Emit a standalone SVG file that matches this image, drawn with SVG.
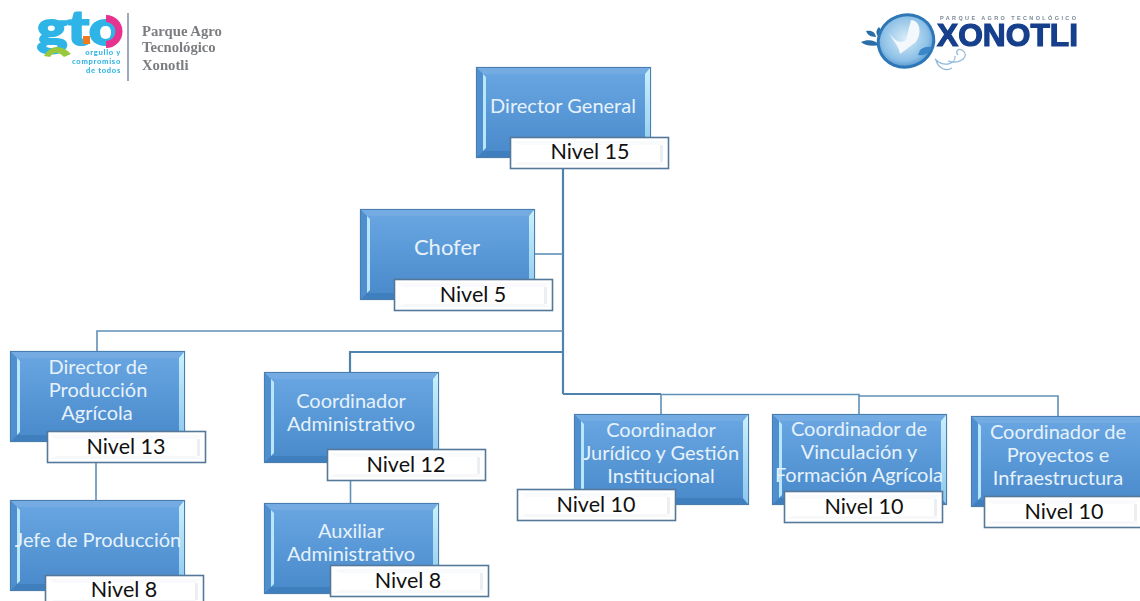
<svg xmlns="http://www.w3.org/2000/svg" xmlns:xlink="http://www.w3.org/1999/xlink" width="1140" height="601" viewBox="0 0 1140 601">
<style>
.t{font-family:Lato,"Liberation Sans",sans-serif;font-size:20px;fill:#e6f2fb;text-anchor:middle}
.n{font-family:Lato,"Liberation Sans",sans-serif;font-size:21.500px;fill:#111;text-anchor:middle}
.c{fill:none;stroke:#5f90b8;stroke-width:1.6}
.ct{fill:none;stroke:#4f83ad;stroke-width:2.2}
.lb{fill:#fff;stroke:#54789a;stroke-width:1.6}
.lg{font-family:"Liberation Serif",serif;font-size:14.700px;font-weight:bold;fill:#7b7d80}
.s{font-family:Lato,"Liberation Sans",sans-serif;font-size:7.600px;letter-spacing:0.7px;font-weight:900;fill:#34b4e4;text-anchor:end}
</style>
<defs>
<linearGradient id="bg" x1="0" y1="0" x2="0" y2="1"><stop offset="0" stop-color="#6aa7e3"/><stop offset="1" stop-color="#4889ca"/></linearGradient>
<linearGradient id="rb" x1="0" y1="0" x2="0" y2="1"><stop offset="0" stop-color="#c9f0fb"/><stop offset="1" stop-color="#8cc8ee"/></linearGradient>
<g id="box">
<rect x="0.5" y="0.5" width="174" height="90" fill="url(#bg)" stroke="#4a7eae" stroke-width="1.2"/>
<polygon points="1,1 174,1 168,7 7,7" fill="#74abe2"/>
<polygon points="1,90 174,90 168,84 7,84" fill="#3f7fbd"/>
<polygon points="1,1 7,7 7,84 1,90" fill="#4f8ecf"/>
<polygon points="7,7 10,10 10,81 7,84" fill="#b8e6fa"/>
<polygon points="169,7 174,1 174,90 169,84" fill="url(#rb)"/>
</g>
<g id="lab">
<rect x="0.5" y="0.5" width="158" height="31" class="lb"/>
<polygon points="3,4 156,4 150,8 9,8" fill="#f9fafc"/>
<polygon points="3,28 156,28 150,25 9,25" fill="#f6f8fa"/>
<polygon points="150,8 153,8 153,25 150,25" fill="#eceff2"/>
</g>
<filter id="bl"><feGaussianBlur stdDeviation="0.45"/></filter>
<radialGradient id="gl" cx="0.5" cy="0.45" r="0.6"><stop offset="0" stop-color="#d8ecf8"/><stop offset="0.7" stop-color="#8cc0e6"/><stop offset="1" stop-color="#3f86c8"/></radialGradient>
</defs>

<g id="connectors">
<path class="ct" d="M563 168V394"/>
<path class="c" d="M534 254H563"/>
<path class="c" d="M563 331H97V351"/>
<path class="ct" d="M563 352H350V372"/>
<path class="ct" d="M563 394H661"/>
<path class="c" d="M661 394V414"/>
<path class="c" d="M661 394.500H859V414"/>
<path class="c" d="M859 396H1058V416"/>
<path class="c" d="M96 462V500"/>
<path class="c" d="M350.500 480V503"/>
</g>

<g id="logo-gto" filter="url(#bl)">
<text x="37" y="45" font-family="Lato,'Liberation Sans',sans-serif" font-size="47" font-weight="900" fill="#2eb4e6" stroke="#2eb4e6" stroke-width="2" textLength="85" lengthAdjust="spacingAndGlyphs">gto</text>
<path d="M106 18.500A13 13 0 0 1 106 44.500" fill="none" stroke="#e8318f" stroke-width="7"/>
<path d="M44 56C50 45 62 44 71 54L64 57C59 52 54 51 50 57Z" fill="#9ac83c"/>
<rect x="83" y="36" width="7" height="8" fill="#ee7d22"/>
<text class="s" x="121" y="55">orgullo y</text>
<text class="s" x="121" y="64">compromiso</text>
<text class="s" x="121" y="73">de todos</text>
<path d="M128 13V81" stroke="#5a6f8c" stroke-width="1.2"/>
<text class="lg" x="142" y="36">Parque Agro</text>
<text class="lg" x="142" y="52">Tecnológico</text>
<text class="lg" x="142" y="70">Xonotli</text>
</g>

<g id="logo-xonotli" filter="url(#bl)">
<path d="M880 45C871 47 864 45 861 42C868 39 875 40 880 45ZM876 37C870 37 867 34 866 31C872 30 875 32 876 37ZM880 38C876 35 875 31 879 27C882 31 882 35 880 38Z" fill="#2b6ea8"/>
<ellipse cx="906" cy="41" rx="28" ry="26" fill="url(#gl)" stroke="#2d77b6" stroke-width="3" transform="rotate(-20 906 41)"/>
<path d="M889 33C895 41 900 44 906 40L911 20C919 20 923 32 916 42L900 54C899 46 893 41 889 33Z" fill="#f2f8fc"/>
<path d="M920 50C925 46 930 46 932 48C929 54 924 56 918 55Z" fill="#3a86c8"/>
<path d="M935 59C944 68 956 64 955 56M948 61C960 65 971 56 962 50C958 48 955 52 958 55M936 60C938 68 946 72 952 68" fill="none" stroke="#8fb8d8" stroke-width="1.200"/>
<text x="940" y="20" font-family="'Liberation Sans',sans-serif" font-size="5.500" font-weight="bold" fill="#7a8894" textLength="136">PARQUE AGRO TECNOLÓGICO</text>
<text x="937" y="46" font-family="'Liberation Sans',sans-serif" font-size="32" font-weight="bold" fill="#133f8c" stroke="#133f8c" stroke-width="1.200" textLength="141" lengthAdjust="spacingAndGlyphs">XONOTLI</text>
</g>

<g id="director-general"><use xlink:href="#box" href="#box" x="476" y="67"/><use xlink:href="#lab" href="#lab" x="510" y="137"/>
<text class="t" x="563" y="113">Director General</text><text class="n" x="590" y="159">Nivel 15</text></g>

<g id="chofer"><use xlink:href="#box" href="#box" x="360" y="209"/><use xlink:href="#lab" href="#lab" x="394" y="279"/>
<text class="t" x="447" y="255" style="font-size:22px">Chofer</text><text class="n" x="473" y="302">Nivel 5</text></g>

<g id="director-produccion"><use xlink:href="#box" href="#box" x="10" y="351"/><use xlink:href="#lab" href="#lab" x="47" y="431"/>
<text class="t" x="98" y="374">Director de</text><text class="t" x="98" y="397">Producción</text><text class="t" x="97" y="420">Agrícola</text><text class="n" x="126" y="454">Nivel 13</text></g>

<g id="jefe-produccion"><use xlink:href="#box" href="#box" x="10" y="500"/><use xlink:href="#lab" href="#lab" x="45" y="575"/>
<text class="t" x="98" y="547">Jefe de Producción</text><text class="n" x="124" y="597">Nivel 8</text></g>

<g id="coordinador-administrativo"><use xlink:href="#box" href="#box" x="264" y="372"/><use xlink:href="#lab" href="#lab" x="327" y="449"/>
<text class="t" x="351" y="408">Coordinador</text><text class="t" x="351" y="431">Administrativo</text><text class="n" x="406" y="472">Nivel 12</text></g>

<g id="auxiliar-administrativo"><use xlink:href="#box" href="#box" x="264" y="503"/><use xlink:href="#lab" href="#lab" x="330" y="565"/>
<text class="t" x="351" y="538">Auxiliar</text><text class="t" x="351" y="561">Administrativo</text><text class="n" x="408" y="588">Nivel 8</text></g>

<g id="coordinador-juridico"><use xlink:href="#box" href="#box" x="574" y="414"/><use xlink:href="#lab" href="#lab" x="517" y="489"/>
<text class="t" x="661" y="437">Coordinador</text><text class="t" x="661" y="460">Jurídico y Gestión</text><text class="t" x="661" y="483">Institucional</text><text class="n" x="596" y="512">Nivel 10</text></g>

<g id="coordinador-vinculacion"><use xlink:href="#box" href="#box" x="772" y="414"/><use xlink:href="#lab" href="#lab" x="784" y="491"/>
<text class="t" x="859" y="436">Coordinador de</text><text class="t" x="859" y="459">Vinculación y</text><text class="t" x="859" y="482">Formación Agrícola</text><text class="n" x="864" y="514">Nivel 10</text></g>

<g id="coordinador-proyectos"><use xlink:href="#box" href="#box" x="971" y="416"/><use xlink:href="#lab" href="#lab" x="984" y="496"/>
<text class="t" x="1058" y="439">Coordinador de</text><text class="t" x="1058" y="462">Proyectos e</text><text class="t" x="1058" y="485">Infraestructura</text><text class="n" x="1064" y="519">Nivel 10</text></g>
</svg>
